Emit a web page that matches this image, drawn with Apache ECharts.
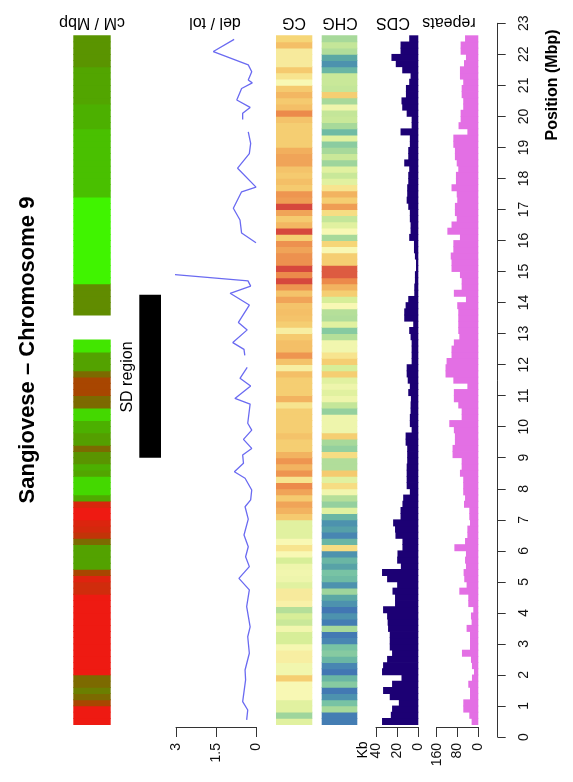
<!DOCTYPE html>
<html>
<head>
<meta charset="utf-8">
<script src="https://cdn.jsdelivr.net/npm/echarts@6.0.0/dist/echarts.min.js"></script>
<style>
  html, body { margin: 0; padding: 0; background: #fff; }
  #main { width: 573px; height: 782px; }
</style>
</head>
<body>
<div id="main"></div>
<script>
// bins of 0.2 Mbp, first bin starts at 0.4 Mbp (one value per bin, bottom to top)
var binStart = 0.4
var binSize = 0.2

var positionTicks = [0, 23]

// CDS (Kb per bin)
var cdsKb = [
  34.3, 26, 24.8, 18.4, 27, 33.3, 24.8, 15.9, 34.3, 33.3,
  29.5, 24.8, 27, 27, 27, 28.6, 29, 29.5, 33.3, 22,
  22, 24.4, 20, 29.5, 34.3, 16.5, 20, 19.7, 15, 15,
  21.6, 22, 23.8, 16.8, 16.8, 15, 14.3, 8, 11, 11,
  11, 11, 10.5, 10.5, 10.5, 12, 12, 6.3, 8, 8,
  7.3, 7.3, 7, 9.5, 8, 10, 11, 11, 6.3, 6.3,
  6.3, 6.3, 7.3, 8.6, 4.8, 13.3, 13.3, 12, 9.5, 3.8,
  3.8, 3.2, 3.2, 2.2, 2.2, 3.2, 4.1, 4.1, 8.6, 7.3,
  7.3, 8, 8, 9.5, 11, 10.5, 10.5, 9.5, 9.5, 8.6,
  13.3, 9.5, 9.5, 8, 8, 16.8, 6.3, 6.3, 11, 15.2,
  15.9, 11.7, 11.7, 8.6, 7.3, 15.2, 21.3, 25.4, 16.8, 16.8,
  8.6
]

// repeats (Kb per bin)
var repeatsKb = [
  25.7, 34.6, 57.7, 57.7, 32, 32, 38.5, 24.4, 16.7, 24.4,
  28.2, 62.9, 32, 32, 32, 45, 25.7, 28.2, 19.2, 38.5,
  38.5, 73, 45, 54, 56.5, 47.5, 51, 47.5, 92, 51,
  42, 42, 32, 34.6, 34.6, 55, 51, 58, 58, 58,
  70.6, 64, 64, 99, 99, 90, 90, 94, 111.6, 64,
  64, 77, 94, 94, 42, 96, 126, 126, 122, 103,
  103, 94, 73, 77, 77, 77, 77, 81, 47.5, 94,
  64, 64, 70.6, 103, 103, 106, 96, 96, 70.6, 119,
  103, 83, 90, 90, 81, 83, 103, 86, 86, 77,
  83, 90, 90, 96, 96, 42, 76, 68, 68, 58,
  58, 64, 64, 58, 70.6, 70.6, 55, 47.5, 68, 68,
  51
]

// CG methylation level (0 = blue ... 10 = red)
var cgLevel = [
  5.3, 3.8, 5.3, 5.3, 6, 6, 6, 7.2, 5.8, 5.8,
  6.3, 6.3, 5.9, 5, 5, 5.8, 4.7, 5, 4.3, 6.2,
  6.4, 6.4, 5.3, 5.7, 5.8, 5.7, 5, 6, 6.6, 6,
  5.3, 5.3, 5.3, 7.3, 7.9, 8.3, 7.3, 8.3, 9, 6.6,
  8.7, 7.9, 8.7, 7.9, 7.2, 7.2, 7.5, 7.2, 7.2, 7.2,
  7.2, 6.6, 7.9, 7.2, 7.2, 7.2, 7.6, 6.3, 7.5, 8.7,
  7.6, 7.6, 7.3, 6.3, 7.2, 7.5, 7.6, 7.5, 8.3, 7.5,
  8.7, 10, 9, 10, 8.8, 8.8, 8.3, 8.8, 7.2, 10,
  7.8, 7.3, 8.3, 10, 8.5, 8.7, 7.3, 7.6, 7.3, 7.5,
  8.3, 8.3, 8, 7.2, 7.2, 7.2, 7.2, 7.5, 9, 7.6,
  7.3, 7.8, 7.3, 6, 6.6, 7.3, 6.4, 6.4, 6.4, 7.6,
  7
]

// CHG methylation level (0 = blue ... 10 = red)
var chgLevel = [
  0.5, 0.5, 4, 3, 1.2, 0.4, 3.3, 2.5, 0.3, 0.8,
  2.5, 3.3, 3, 0.8, 0.4, 4, 0.5, 1.2, 0.3, 1.2,
  2, 3.8, 1.2, 2.7, 3, 1.8, 2.5, 1.2, 6.8, 2.5,
  0.8, 1.7, 1.2, 2.5, 5.3, 3.6, 4.3, 5.8, 6.8, 5.3,
  7.3, 4.2, 4.2, 6.8, 3.6, 4, 7.2, 5.7, 5.7, 5.7,
  3.6, 4.6, 5.7, 5.3, 5.7, 5.3, 7.2, 5, 7.2, 6.6,
  5.8, 5.8, 4.3, 3.3, 5.3, 4.2, 4.3, 6, 5, 7.2,
  7.9, 9, 9.7, 9.7, 7.2, 7.2, 6, 7, 4, 6,
  5.3, 4.6, 6.8, 8.5, 7.2, 7.9, 6.6, 5.3, 4.7, 5.3,
  3.8, 4.7, 4, 3.4, 5.3, 2.7, 4, 4.7, 4.6, 5.7,
  4, 7.2, 4.6, 4.7, 4.7, 2.5, 1.2, 2, 4.2, 4.6,
  4
]

// recombination rate level (0 = red/low ... 7 = green/high), null = no data
var cmMbpLevel = [
  0, 0, 0, 2, 3, 3.5, 3, 3, 0, 0,
  0, 0, 0, 0, 0, 0, 0, 0, 0, 0,
  0, 0.8, 0.8, 0.4, 2, 4.5, 4.5, 4.5, 4.5, 3,
  1.2, 0.7, 0.5, 0, 0, 0.6, 4.8, 6, 6, 6,
  4.6, 5, 4, 4, 3, 4.4, 4.4, 5, 5, 6,
  6, 3, 3, 2, 2, 2, 3, 4.5, 4.5, 4.5,
  6.5, 6.5, null, null, null, null, 3.8, 3.8, 3.8, 3.8,
  3.8, 7, 7, 7, 7, 7, 7, 7, 7, 7,
  7, 7, 7, 7, 7, 5.4, 5.4, 5.4, 5.4, 5.4,
  5.4, 5.4, 5.4, 5.4, 5.4, 5.4, 5, 5, 5, 5,
  4.6, 4.6, 4.6, 4.6, 4.6, 4.6, 4, 4, 4, 4,
  4
]

// SD region (Mbp)
var sdRegion = [9.0, 14.25]

// del / tol ratio, [value, position Mbp], one array per unbroken stretch
var delTolA = [
  [0.35, 0.55], [0.31, 0.87], [0.5, 1.14], [0.39, 1.84], [0.41, 2.16], [0.25, 2.7],
  [0.31, 3.23], [0.22, 3.55], [0.35, 4.2], [0.25, 4.74], [0.64, 5.11], [0.25, 5.49],
  [0.39, 5.81], [0.29, 6.13], [0.45, 6.51], [0.29, 7.02], [0.41, 7.42], [0.2, 7.64],
  [0.16, 7.96], [0.41, 8.34], [0.81, 8.55], [0.47, 8.82], [0.5, 9.09], [0.16, 9.3],
  [0.47, 9.59], [0.16, 9.89], [0.31, 10.11], [0.22, 10.73], [0.79, 10.91], [0.2, 11.31],
  [0.6, 11.56], [0.33, 11.91]
]
var delTolB = [
  [0.42, 12.3], [0.45, 12.49], [0.87, 12.71], [0.33, 13.12], [0.66, 13.36], [0.25, 13.92],
  [0.97, 14.3], [0.2, 14.53], [0.3, 14.7], [3.04, 14.9]
]
var delTolC = [
  [0.0, 15.93], [0.54, 16.24], [0.6, 16.66], [0.85, 17.04], [0.54, 17.57], [0.0, 17.72],
  [0.69, 18.33], [0.25, 18.8], [0.2, 19.13], [0.29, 19.5]
]
var delTolD = [
  [0.5, 19.9], [0.5, 20.1], [0.22, 20.29], [0.72, 20.53], [0.54, 20.9], [0.14, 21.08],
  [0.29, 21.17], [0.16, 21.44], [0.29, 21.66], [1.6, 22.09], [0.82, 22.48]
]

var axisColor = '#333'
var fontFamily = 'Liberation Sans, Arial, sans-serif'

var plotTop = 23.3
var plotHeight = 713.7

function binned(values) {
    return values.map(function (v, i) {
        return [v == null ? NaN : v, binStart + i * binSize]
    })
}

// rect between two data points, padded a hair vertically so neighbouring bins don't leave seams
function rectBetween(p0, p1, style) {
    return {
        type: 'rect',
        shape: {
            x: Math.min(p0[0], p1[0]),
            y: p1[1] - 0.4,
            width: Math.abs(p1[0] - p0[0]),
            height: p0[1] - p1[1] + 0.8
        },
        style: style
    }
}

// horizontal bar growing from 0 to the value, one bin tall
function renderBar(params, api) {
    var v = api.value(0)
    var s = api.value(1)
    if (isNaN(v)) return
    return rectBetween(api.coord([0, s]), api.coord([v, s + binSize]), api.style())
}

// full-width cell, colour from the visualMap
function renderCell(params, api) {
    var v = api.value(0)
    var s = api.value(1)
    if (isNaN(v)) return
    return rectBetween(api.coord([0, s]), api.coord([1, s + binSize]), api.style())
}

function renderRegion(params, api) {
    var p0 = api.coord([0, api.value(0)])
    var p1 = api.coord([1, api.value(1)])
    return {
        type: 'rect',
        shape: { x: p0[0], y: p1[1], width: p1[0] - p0[0], height: p0[1] - p1[1] },
        style: { fill: '#000' }
    }
}

function grid(left, width) {
    return { left: left, width: width, top: plotTop, height: plotHeight }
}

function hiddenX(gridIndex) {
    return { gridIndex: gridIndex, type: 'value', min: 0, max: 1, show: false }
}

function trackX(gridIndex, max, interval) {
    return {
        gridIndex: gridIndex, type: 'value', min: 0, max: max, interval: interval, inverse: true,
        position: 'bottom', offset: -10,
        axisLine: { show: true, onZero: false, lineStyle: { color: axisColor, width: 1 } },
        axisTick: { show: true, length: 10, lineStyle: { color: axisColor, width: 1 } },
        axisLabel: { rotate: 90, margin: 16, fontSize: 14, color: '#111', fontFamily: fontFamily },
        splitLine: { show: false }
    }
}

function hiddenY(gridIndex) {
    return { gridIndex: gridIndex, type: 'value', min: positionTicks[0], max: positionTicks[1], show: false }
}

function text(str, x, y, rotation, font) {
    return {
        type: 'text', x: x, y: y, rotation: rotation,
        style: { text: str, font: font, fill: '#000', align: 'center', verticalAlign: 'middle' }
    }
}

var myChart

function initChart() {

    myChart = echarts.init(document.getElementById('main'), null, { renderer: 'canvas' })

    var lineStyle = { color: '#5a5af0', width: 1.3, opacity: 0.9 }
    function delTolSeries(data) {
        return {
            type: 'line', xAxisIndex: 2, yAxisIndex: 2, data: data,
            showSymbol: false, symbol: 'none', lineStyle: lineStyle, silent: true
        }
    }

    var option = {
        animation: false,
        backgroundColor: '#fff',
        grid: [
            grid(73.3, 37.4),    // cM / Mbp
            grid(139.3, 21.7),   // SD region
            grid(176, 80),       // del / tol
            grid(276, 36.3),     // CG
            grid(321.7, 35.6),   // CHG
            grid(376, 42.3),     // CDS
            grid(436.7, 41.6),   // repeats
            grid(480, 17.7)      // position axis
        ],
        xAxis: [
            hiddenX(0),
            hiddenX(1),
            trackX(2, 3, 1.5),
            hiddenX(3),
            hiddenX(4),
            trackX(5, 40, 20),
            trackX(6, 160, 80),
            hiddenX(7)
        ],
        yAxis: [
            hiddenY(0), hiddenY(1), hiddenY(2), hiddenY(3), hiddenY(4), hiddenY(5), hiddenY(6),
            {
                gridIndex: 7, type: 'value', min: positionTicks[0], max: positionTicks[1], interval: 1,
                position: 'right',
                axisLine: { show: true, onZero: false, lineStyle: { color: axisColor, width: 1 } },
                axisTick: { show: true, length: 8, lineStyle: { color: axisColor, width: 1 } },
                axisLabel: { rotate: 90, margin: 19, fontSize: 14, color: '#111', fontFamily: fontFamily },
                splitLine: { show: false }
            }
        ],
        visualMap: [
            {
                type: 'continuous', show: false, seriesIndex: 0, dimension: 0, min: 0, max: 7,
                inRange: { color: ['#ee1a12', '#c8300a', '#a84600', '#7c6a00', '#5a9400', '#4cb000', '#44d800', '#40f400'] }
            },
            {
                type: 'continuous', show: false, seriesIndex: [2, 3], dimension: 0, min: 0, max: 10,
                inRange: { color: ['#3e6db4', '#4a8cb1', '#5ba8a4', '#78c3a4', '#a7d99a', '#d7ee98',
                                   '#f8f8b4', '#f6d677', '#f2af5d', '#ec8a4b', '#d6473d'] }
            }
        ],
        series: [
            { type: 'custom', xAxisIndex: 0, yAxisIndex: 0, renderItem: renderCell, data: binned(cmMbpLevel), silent: true },
            { type: 'custom', xAxisIndex: 1, yAxisIndex: 1, renderItem: renderRegion, data: [sdRegion], silent: true },
            { type: 'custom', xAxisIndex: 3, yAxisIndex: 3, renderItem: renderCell, data: binned(cgLevel), silent: true },
            { type: 'custom', xAxisIndex: 4, yAxisIndex: 4, renderItem: renderCell, data: binned(chgLevel), silent: true },
            { type: 'custom', xAxisIndex: 5, yAxisIndex: 5, renderItem: renderBar, data: binned(cdsKb),
              itemStyle: { color: '#1c0074' }, silent: true },
            { type: 'custom', xAxisIndex: 6, yAxisIndex: 6, renderItem: renderBar, data: binned(repeatsKb),
              itemStyle: { color: '#e36fe4' }, silent: true },
            delTolSeries(delTolA),
            delTolSeries(delTolB),
            delTolSeries(delTolC),
            delTolSeries(delTolD)
        ],
        graphic: [
            text('Sangiovese \u2013 Chromosome 9', 28, 350, Math.PI / 2, 'bold 22px ' + fontFamily),
            text('SD region', 128, 377, Math.PI / 2, '16px ' + fontFamily),
            text('Position (Mbp)', 553, 85, Math.PI / 2, 'bold 16px ' + fontFamily),
            text('Kb', 363, 750, Math.PI / 2, '14px ' + fontFamily),
            text('cM / Mbp', 92, 22, Math.PI, '16px ' + fontFamily),
            text('del / tol', 215, 22, Math.PI, '16px ' + fontFamily),
            text('CG', 294, 22, Math.PI, '16px ' + fontFamily),
            text('CHG', 340, 22, Math.PI, '16px ' + fontFamily),
            text('CDS', 393, 22, Math.PI, '16px ' + fontFamily),
            text('repeats', 449, 22, Math.PI, '16px ' + fontFamily)
        ]
    }

    myChart.setOption(option)
}

initChart()
</script>
</body>
</html>
